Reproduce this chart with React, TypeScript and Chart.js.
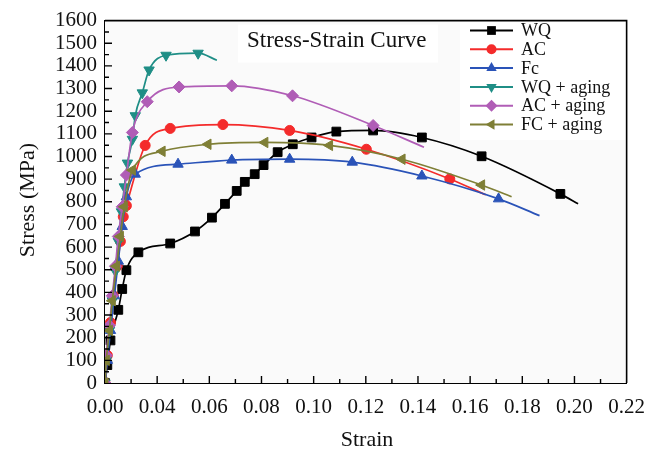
import { useEffect, useRef } from 'react';
import { Chart, registerables } from 'chart.js';

Chart.register(...registerables);

// Tick labels as printed on the reference x axis (evenly spaced positions)
const xTickLabels = ['0.00', '0.04', '0.06', '0.08', '0.10', '0.12', '0.14', '0.16', '0.18', '0.20', '0.22'];
const seriesNames = ['WQ', 'AC', 'Fc', 'WQ + aging', 'AC + aging', 'FC + aging'];

// x values are in axis-position units (0.02 per labelled interval)
const wqStrain = [0, 0.0009, 0.0021, 0.0051, 0.0066, 0.0082, 0.0128, 0.025, 0.0345, 0.041, 0.046, 0.0505, 0.0536, 0.0574, 0.0608, 0.0662, 0.072, 0.0792, 0.0887, 0.1028, 0.1215, 0.1444, 0.1746, 0.1814];
const wqStress = [0, 79, 188, 323, 415, 498, 577, 616, 669, 730, 791, 848, 888, 922, 962, 1019, 1054, 1084, 1110, 1115, 1084, 1001, 835, 791];

const acStrain = [0, 0.0009, 0.0021, 0.0032, 0.0047, 0.0059, 0.007, 0.0082, 0.0154, 0.025, 0.0452, 0.0708, 0.1002, 0.1322, 0.146];
const acStress = [0, 122, 267, 385, 516, 625, 734, 783, 1049, 1124, 1141, 1115, 1032, 901, 831];

const fcStrain = [0, 0.0009, 0.0021, 0.0036, 0.0051, 0.0066, 0.0082, 0.0116, 0.028, 0.0486, 0.0708, 0.0948, 0.1215, 0.1509, 0.1666];
const fcStress = [0, 100, 232, 385, 538, 691, 822, 922, 966, 984, 988, 975, 914, 813, 739];

const wqAgingStrain = [0, 0.0005, 0.0017, 0.0028, 0.004, 0.0051, 0.0063, 0.0074, 0.0086, 0.0105, 0.0116, 0.0143, 0.0169, 0.0234, 0.0357, 0.0429];
const wqAgingStress = [0, 100, 232, 363, 494, 625, 756, 866, 971, 1076, 1180, 1281, 1382, 1447, 1456, 1425];

const acAgingStrain = [0, 0.0005, 0.0017, 0.0028, 0.004, 0.0051, 0.0066, 0.0082, 0.0105, 0.0162, 0.0284, 0.0486, 0.0719, 0.1028, 0.1223];
const acAgingStress = [0, 122, 254, 385, 516, 647, 778, 918, 1106, 1242, 1307, 1312, 1268, 1137, 1041];

const fcAgingStrain = [0, 0.0005, 0.0017, 0.0028, 0.0044, 0.0059, 0.0074, 0.0105, 0.0219, 0.0395, 0.0613, 0.0861, 0.1139, 0.1444, 0.1559];
const fcAgingStress = [0, 100, 232, 363, 516, 647, 778, 940, 1023, 1054, 1062, 1049, 988, 874, 822];

const COLORS = ['#000000', '#f42b2b', '#2a53b8', '#1f8e86', '#b05db6', '#7f7f36'];
const STYLES: [string, number][] = [['rect', 0], ['circle', 0], ['triangle', 0], ['triangle', 180], ['rectRot', 0], ['triangle', -90]];
const RADII = [6.2, 5, 6, 6, 6, 6];
const FONT = "'Liberation Serif', 'Times New Roman', serif";

function drawMarker(ctx: CanvasRenderingContext2D, style: string, rotation: number, r: number, x: number, y: number) {
  ctx.beginPath();
  if (style === 'rect') {
    const s = r * Math.SQRT1_2;
    ctx.rect(x - s, y - s, 2 * s, 2 * s);
  } else if (style === 'circle') {
    ctx.arc(x, y, r, 0, Math.PI * 2);
  } else if (style === 'rectRot') {
    ctx.moveTo(x, y - r);
    ctx.lineTo(x + r, y);
    ctx.lineTo(x, y + r);
    ctx.lineTo(x - r, y);
    ctx.closePath();
  } else {
    let rad = (rotation * Math.PI) / 180;
    ctx.moveTo(x + Math.sin(rad) * r, y - Math.cos(rad) * r);
    rad += (2 * Math.PI) / 3;
    ctx.lineTo(x + Math.sin(rad) * r, y - Math.cos(rad) * r);
    rad += (2 * Math.PI) / 3;
    ctx.lineTo(x + Math.sin(rad) * r, y - Math.cos(rad) * r);
    ctx.closePath();
  }
  ctx.fill();
}

const decor = {
  id: 'decor',
  beforeDatasetsDraw(chart: any) {
    const ctx = chart.ctx as CanvasRenderingContext2D;
    const { left, right, top, bottom } = chart.chartArea;
    ctx.save();
    ctx.fillStyle = '#fafafa';
    ctx.fillRect(left, top, right - left, bottom - top);
    ctx.fillStyle = '#ffffff';
    ctx.fillRect(460, top, right - 460, 140 - top);
    ctx.fillRect(238, top + 4, 200, 38);
    ctx.restore();
  },
  afterDraw(chart: any) {
    const ctx = chart.ctx as CanvasRenderingContext2D;
    const { left, right, top, bottom } = chart.chartArea;
    const xs = chart.scales.x;
    const ys = chart.scales.y;
    ctx.save();
    // frame top & right
    ctx.strokeStyle = '#000';
    ctx.lineWidth = 1.6;
    ctx.beginPath();
    ctx.moveTo(left, top);
    ctx.lineTo(right, top);
    ctx.lineTo(right, bottom);
    ctx.stroke();
    // inward ticks
    ctx.lineWidth = 1.4;
    ctx.beginPath();
    for (let i = 1; i < 20; i++) {
      const px = xs.getPixelForValue(i * 0.01);
      const len = i % 2 === 0 ? 7 : 4;
      ctx.moveTo(px, bottom);
      ctx.lineTo(px, bottom - len);
    }
    for (let i = 1; i < 32; i++) {
      const py = ys.getPixelForValue(i * 50);
      const len = i % 2 === 0 ? 7 : 4;
      ctx.moveTo(left, py);
      ctx.lineTo(left + len, py);
    }
    ctx.stroke();

    // title in plot
    ctx.fillStyle = '#111';
    ctx.font = `23px ${FONT}`;
    ctx.textAlign = 'left';
    ctx.textBaseline = 'alphabetic';
    ctx.fillText('Stress-Strain Curve', 247, 47);

    // legend
    ctx.font = `18px ${FONT}`;
    ctx.textBaseline = 'middle';
    seriesNames.forEach((name, i) => {
      const y = 30.5 + i * 18.8;
      ctx.strokeStyle = COLORS[i];
      ctx.fillStyle = COLORS[i];
      ctx.lineWidth = 2;
      ctx.beginPath();
      ctx.moveTo(470, y);
      ctx.lineTo(513, y);
      ctx.stroke();
      drawMarker(ctx, STYLES[i][0], STYLES[i][1], RADII[i], 491.5, y);
      ctx.fillStyle = '#111';
      ctx.fillText(name, 521, y + 1);
    });

    // axis titles
    ctx.fillStyle = '#111';
    ctx.font = `22px ${FONT}`;
    ctx.textAlign = 'center';
    ctx.textBaseline = 'middle';
    ctx.fillText('Strain', 367, 440);
    ctx.translate(28, 200);
    ctx.rotate(-Math.PI / 2);
    ctx.fillText('Stress (MPa)', 0, 0);
    ctx.restore();
  },
};

export default function App() {
  const ref = useRef<HTMLCanvasElement>(null);
  useEffect(() => {
    const canvas = ref.current;
    if (!canvas) return;
    const series = [
      { x: wqStrain, y: wqStress },
      { x: acStrain, y: acStress },
      { x: fcStrain, y: fcStress },
      { x: wqAgingStrain, y: wqAgingStress },
      { x: acAgingStrain, y: acAgingStress },
      { x: fcAgingStrain, y: fcAgingStress },
    ];
    const datasets = series.map((s, i) => ({
      label: seriesNames[i],
      data: s.x.map((v, j) => ({ x: v, y: s.y[j] })),
      borderColor: COLORS[i],
      backgroundColor: COLORS[i],
      borderWidth: 1.7,
      pointStyle: STYLES[i][0] as any,
      pointRotation: STYLES[i][1],
      pointRadius: (c: any) => (c.dataIndex === s.x.length - 1 ? 0 : RADII[i]),
      pointBorderWidth: 1,
      pointBorderColor: COLORS[i],
      pointBackgroundColor: COLORS[i],
      cubicInterpolationMode: 'monotone' as const,
      fill: false,
      order: 5 - i,
    }));
    const chart = new Chart(canvas, {
      type: 'line',
      data: { datasets },
      options: {
        animation: false,
        responsive: true,
        maintainAspectRatio: false,
        layout: { padding: { top: 17, right: 29, left: 0, bottom: 0 } },
        plugins: { legend: { display: false }, tooltip: { enabled: false } },
        scales: {
          x: {
            type: 'linear',
            min: 0,
            max: 0.2,
            afterFit: (sc: any) => { sc.height = 69; },
            grid: { display: false, drawTicks: false },
            border: { display: true, color: '#000', width: 2 },
            ticks: {
              stepSize: 0.02,
              padding: 12,
              color: '#111',
              font: { family: FONT, size: 21 },
              maxRotation: 0,
              autoSkip: false,
              callback: (_v: any, idx: number) => xTickLabels[idx],
            },
          },
          y: {
            type: 'linear',
            min: 0,
            max: 1600,
            afterFit: (sc: any) => { sc.width = 105; },
            grid: { display: false, drawTicks: false },
            border: { display: true, color: '#000', width: 2 },
            ticks: {
              stepSize: 100,
              padding: 8,
              color: '#111',
              font: { family: FONT, size: 21 },
              autoSkip: false,
              callback: (v: any) => String(v),
            },
          },
        },
      },
      plugins: [decor],
    });
    return () => chart.destroy();
  }, []);
  return (
    <div style={{ position: 'fixed', left: 0, top: 0, width: 657, height: 452, background: '#fff' }}>
      <canvas ref={ref} />
    </div>
  );
}
